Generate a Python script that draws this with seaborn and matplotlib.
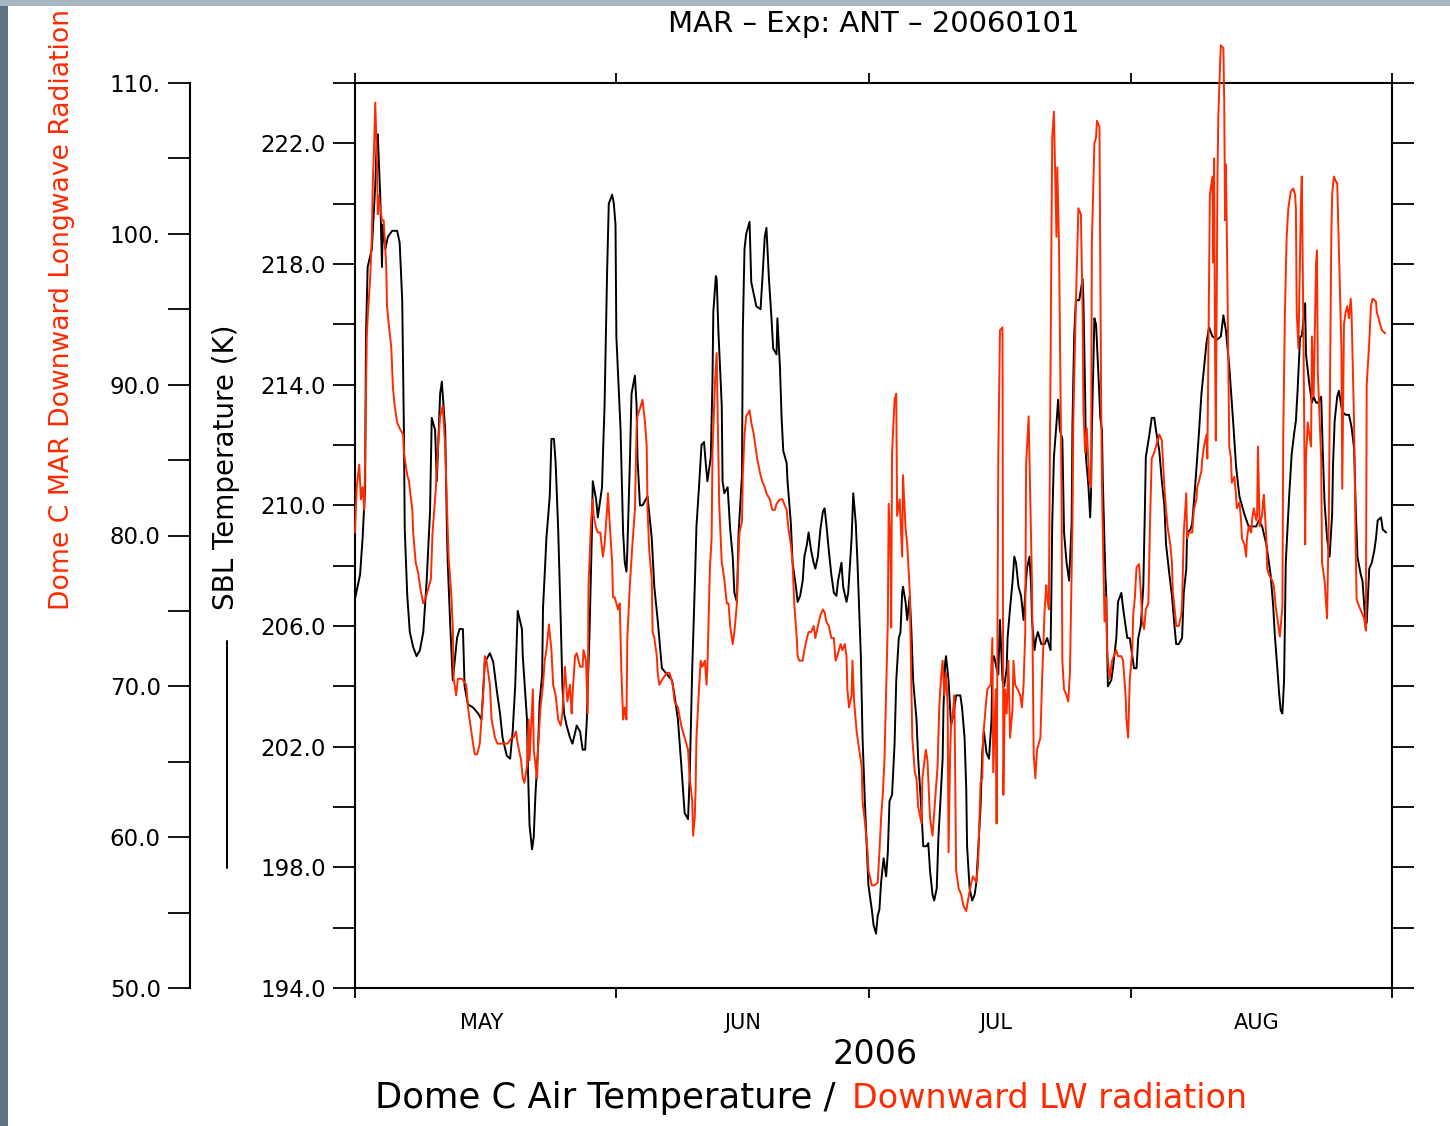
import numpy as np
import pandas as pd
import matplotlib
matplotlib.use("Agg")
import matplotlib.pyplot as plt
import matplotlib.dates as mdates
from matplotlib.lines import Line2D
from matplotlib.patches import Rectangle
import seaborn as sns

# ---------------- data ----------------
start_date = "2006-05-01"          # days below are counted from this date
end_date = "2006-09-01"

# Dome C air temperature (K), black series
t_days = [0.0, 0.6, 0.9, 1.2, 1.3, 1.5, 2.0, 2.4, 2.6, 2.7, 3.0, 3.2, 3.3, 3.6, 3.9, 4.4, 5.0, 5.3, 5.6, 5.8,
          5.9, 6.2, 6.5, 6.9, 7.3, 7.7, 8.1, 8.5, 8.9, 9.1, 9.5, 9.7, 10.1, 10.3, 10.7, 10.9, 11.0, 11.3, 11.6, 12.1,
          12.4, 12.8, 13.0, 13.4, 14.0, 14.6, 15.0, 15.4, 16.0, 16.4, 16.8, 17.2, 17.5, 18.0, 18.4, 18.7, 19.0, 19.3, 19.8, 19.9,
          20.4, 20.5, 20.7, 21.0, 21.2, 21.4, 21.7, 21.9, 22.2, 22.3, 22.5, 22.7, 23.1, 23.3, 23.6, 23.8, 24.1, 24.4, 24.6, 24.8,
          25.1, 25.5, 25.8, 26.3, 26.7, 27.0, 27.3, 27.5, 27.6, 27.8, 28.1, 28.2, 28.6, 28.8, 29.3, 29.4, 29.6, 29.9, 30.1, 30.5,
          30.7, 30.9, 31.0, 31.3, 31.5, 31.6, 31.8, 32.0, 32.2, 32.3, 32.6, 32.8, 33.2, 33.4, 33.5, 33.8, 34.1, 34.7, 35.2, 35.5,
          35.9, 36.4, 37.0, 37.6, 37.9, 38.3, 38.7, 39.1, 39.5, 39.7, 40.0, 40.3, 40.5, 40.8, 41.1, 41.4, 41.6, 41.8, 42.2, 42.4,
          42.5, 42.8, 42.9, 43.1, 43.5, 43.6, 43.8, 44.2, 44.5, 44.8, 45.0, 45.3, 45.5, 45.9, 46.0, 46.2, 46.4, 46.8, 47.0, 47.3,
          47.6, 48.1, 48.3, 48.6, 48.8, 49.1, 49.4, 49.6, 50.0, 50.1, 50.4, 50.6, 50.8, 51.2, 51.3, 51.7, 51.9, 52.3, 52.5, 52.8,
          53.1, 53.3, 53.6, 53.8, 54.1, 54.4, 54.6, 54.9, 55.2, 55.5, 55.7, 55.9, 56.2, 56.5, 56.8, 57.1, 57.3, 57.7, 57.9, 58.3,
          58.5, 58.9, 59.1, 59.4, 59.6, 60.0, 60.2, 60.5, 60.7, 60.9, 61.3, 61.5, 61.8, 62.0, 62.2, 62.4, 62.7, 63.0, 63.2, 63.4,
          63.7, 64.0, 64.2, 64.5, 64.7, 64.9, 65.0, 65.3, 65.5, 65.8, 66.0, 66.2, 66.6, 66.8, 67.2, 67.4, 67.8, 68.0, 68.2, 68.5,
          68.7, 69.0, 69.2, 69.4, 69.7, 69.8, 70.0, 70.1, 70.4, 70.7, 71.0, 71.3, 71.8, 72.0, 72.3, 72.5, 72.6, 72.9, 73.2, 73.5,
          73.7, 73.9, 74.2, 74.4, 74.6, 74.9, 75.2, 75.5, 75.6, 75.8, 76.1, 76.3, 76.5, 76.8, 77.0, 77.3, 77.4, 77.7, 78.0, 78.2,
          78.4, 78.7, 79.0, 79.3, 79.5, 79.7, 80.0, 80.2, 80.3, 80.6, 80.8, 81.0, 81.4, 81.8, 82.1, 82.5, 82.6, 82.7, 82.9, 83.2,
          83.4, 83.6, 83.9, 84.0, 84.1, 84.4, 84.7, 85.0, 85.1, 85.3, 85.5, 85.9, 86.3, 86.4, 86.6, 86.7, 87.0, 87.2, 87.3, 87.4,
          87.7, 87.9, 88.2, 88.4, 88.6, 88.7, 89.0, 89.1, 89.3, 89.7, 89.9, 90.3, 90.5, 90.9, 91.1, 91.5, 91.6, 91.9, 92.2, 92.4,
          92.7, 92.9, 93.2, 93.5, 93.7, 93.8, 94.2, 94.5, 94.8, 95.0, 95.4, 95.7, 96.0, 96.2, 96.6, 96.9, 97.2, 97.4, 97.7, 98.1,
          98.3, 98.6, 98.7, 99.1, 99.3, 99.5, 99.8, 100.1, 100.4, 101.0, 101.3, 101.7, 102.3, 102.7, 103.0, 103.3, 103.7, 104.2, 104.5, 104.9,
          105.5, 106.0, 106.4, 106.9, 107.2, 107.6, 108.1, 108.3, 108.6, 108.9, 109.1, 109.4, 109.6, 109.8, 110.0, 110.2, 110.4, 110.8, 111.1, 111.4,
          111.6, 111.8, 112.1, 112.3, 112.7, 112.8, 113.2, 113.5, 113.7, 114.0, 114.2, 114.6, 114.8, 115.0, 115.3, 115.6, 115.9, 116.0, 116.2, 116.5,
          116.7, 117.1, 117.5, 117.9, 118.2, 118.5, 118.7, 118.9, 119.3, 119.5, 119.8, 120.0, 120.3, 120.6, 120.9, 121.1, 121.3, 121.7, 121.9, 122.3]
t_vals = [206.9, 207.7, 208.9, 210.6, 215.6, 217.9, 218.5, 220.6, 222.2, 222.3, 220.2, 217.9, 219.3, 218.5, 218.9, 219.1, 219.1, 218.7, 216.8, 212.5,
          209.2, 207.0, 205.8, 205.3, 205.0, 205.2, 205.8, 207.5, 209.8, 212.9, 212.5, 210.8, 213.7, 214.1, 212.5, 209.2, 208.1, 206.0, 204.2, 205.6,
          205.9, 205.9, 204.0, 203.4, 203.3, 203.1, 202.9, 204.8, 205.1, 204.8, 203.9, 203.1, 202.3, 201.7, 201.6, 202.5, 204.0, 206.5, 205.9, 205.0,
          202.9, 201.4, 199.4, 198.6, 199.0, 200.4, 201.9, 203.5, 204.4, 206.6, 207.7, 208.9, 210.3, 212.2, 212.2, 211.4, 209.2, 206.2, 204.0, 203.1,
          202.7, 202.3, 202.1, 202.7, 202.5, 201.9, 201.9, 202.9, 203.9, 205.6, 209.1, 210.8, 210.2, 209.6, 210.6, 211.6, 213.3, 217.7, 220.0, 220.3,
          220.0, 219.3, 215.6, 213.7, 212.5, 211.4, 209.1, 208.1, 207.8, 208.5, 211.4, 213.7, 214.3, 213.3, 211.6, 210.0, 210.0, 210.3, 208.9, 207.3,
          206.2, 204.6, 204.4, 204.2, 203.7, 202.9, 201.4, 199.8, 199.6, 201.0, 204.6, 207.3, 209.3, 210.6, 212.0, 212.1, 211.4, 210.8, 211.6, 214.1,
          216.4, 217.6, 217.5, 215.8, 213.3, 210.8, 210.4, 210.6, 209.2, 208.3, 207.1, 206.8, 209.1, 211.0, 215.8, 218.5, 219.0, 219.4, 217.4, 217.0,
          216.6, 216.5, 217.4, 218.9, 219.2, 217.5, 216.2, 215.2, 215.0, 216.2, 214.6, 212.9, 211.8, 211.4, 210.8, 209.4, 208.1, 207.3, 206.8, 207.0,
          207.5, 208.3, 208.7, 209.1, 208.5, 208.1, 207.9, 208.3, 209.2, 209.8, 209.9, 209.4, 208.5, 207.7, 207.1, 207.0, 207.5, 208.1, 207.3, 206.8,
          207.1, 208.9, 210.4, 209.4, 208.1, 205.0, 202.3, 200.0, 198.7, 197.4, 196.6, 196.1, 195.8, 196.4, 196.6, 197.5, 198.3, 197.7, 198.5, 200.2,
          200.4, 202.1, 204.2, 205.6, 205.8, 207.1, 207.3, 206.8, 206.2, 207.0, 205.8, 204.2, 202.9, 201.6, 199.8, 198.7, 198.7, 198.8, 197.9, 197.1,
          196.9, 197.3, 199.0, 200.0, 201.6, 203.3, 204.8, 205.0, 204.2, 202.7, 203.1, 203.7, 203.7, 203.3, 202.3, 200.6, 198.7, 197.3, 196.9, 197.1,
          197.5, 198.5, 200.0, 201.8, 202.5, 201.8, 201.6, 202.9, 204.8, 205.0, 204.6, 204.4, 206.2, 204.2, 204.0, 204.6, 205.6, 206.6, 207.5, 208.3,
          208.1, 207.3, 207.0, 206.2, 207.1, 207.9, 208.3, 207.3, 206.2, 205.2, 205.6, 205.8, 205.4, 205.4, 205.6, 205.2, 207.1, 209.4, 211.6, 212.7,
          213.5, 212.5, 212.2, 210.6, 209.1, 208.1, 207.5, 209.4, 212.7, 215.6, 216.8, 216.8, 217.5, 216.8, 213.7, 211.6, 210.6, 209.6, 210.4, 212.5,
          216.2, 216.0, 214.2, 212.9, 212.5, 210.8, 207.7, 207.1, 204.0, 204.2, 204.6, 205.6, 206.8, 207.1, 206.6, 205.8, 205.6, 205.6, 205.0, 204.6,
          204.6, 205.6, 206.0, 207.3, 210.0, 211.6, 212.3, 212.9, 212.9, 212.5, 211.8, 210.8, 210.0, 208.7, 207.7, 207.0, 206.0, 205.4, 205.4, 205.6,
          207.1, 207.9, 209.1, 209.2, 209.4, 210.1, 211.2, 212.4, 213.7, 215.4, 215.9, 215.6, 215.5, 215.6, 216.3, 215.8, 214.6, 212.6, 211.3, 210.3,
          209.7, 209.3, 209.3, 209.3, 209.5, 209.3, 208.7, 208.3, 207.7, 206.7, 205.7, 204.6, 203.8, 203.2, 203.1, 204.2, 208.1, 210.3, 211.7, 212.4,
          212.8, 213.8, 215.6, 215.6, 216.7, 215.0, 214.0, 213.4, 213.6, 213.4, 213.4, 213.6, 211.7, 210.1, 208.9, 208.3, 209.7, 211.3, 212.8, 213.6,
          213.8, 213.1, 213.0, 213.0, 212.6, 211.9, 209.9, 208.3, 207.7, 207.5, 206.3, 206.1, 207.9, 208.1, 208.5, 208.9, 209.5, 209.6, 209.2, 209.1]

# MAR downward longwave radiation (W/m2), red series
lw_days = [0.0, 0.2, 0.5, 0.7, 0.9, 1.1, 1.2, 1.4, 1.5, 1.8, 2.0, 2.1, 2.3, 2.4, 2.6, 2.7, 2.8, 3.2, 3.4, 3.7,
           3.8, 4.0, 4.3, 4.5, 4.7, 5.0, 5.3, 5.7, 5.8, 6.2, 6.4, 6.8, 6.9, 7.2, 7.5, 7.8, 8.1, 8.4, 8.6, 9.0,
           9.2, 9.6, 9.8, 10.1, 10.4, 10.7, 10.9, 11.1, 11.4, 11.6, 11.7, 12.0, 12.2, 12.7, 13.2, 13.4, 13.6, 14.0, 14.2, 14.5,
           14.8, 15.2, 15.4, 15.6, 16.0, 16.2, 16.6, 16.9, 17.4, 17.8, 18.1, 18.6, 18.8, 19.1, 19.3, 19.7, 19.9, 20.1, 20.4, 20.6,
           20.7, 21.1, 21.2, 21.6, 21.7, 22.0, 22.3, 22.5, 22.7, 23.0, 23.3, 23.5, 23.8, 24.1, 24.4, 24.6, 24.9, 25.1, 25.2, 25.5,
           25.7, 25.8, 26.1, 26.3, 26.7, 27.0, 27.1, 27.4, 27.6, 27.7, 28.0, 28.2, 28.3, 28.6, 28.8, 29.1, 29.4, 29.6, 29.9, 30.0,
           30.2, 30.5, 30.6, 30.8, 31.0, 31.2, 31.4, 31.6, 31.8, 32.0, 32.2, 32.3, 32.6, 32.9, 33.2, 33.4, 33.5, 33.9, 34.1, 34.4,
           34.6, 34.7, 34.9, 35.2, 35.3, 35.5, 35.8, 35.9, 36.1, 36.5, 37.0, 37.3, 37.7, 37.9, 38.3, 38.7, 39.1, 39.5, 39.7, 40.0,
           40.1, 40.3, 40.4, 40.5, 40.8, 41.0, 41.2, 41.5, 41.7, 41.8, 42.1, 42.3, 42.4, 42.7, 42.9, 43.0, 43.2, 43.5, 43.6, 43.8,
           44.1, 44.3, 44.5, 44.8, 45.0, 45.3, 45.4, 45.6, 45.9, 46.0, 46.2, 46.4, 46.8, 47.0, 47.3, 47.5, 47.7, 48.1, 48.3, 48.6,
           48.8, 49.2, 49.5, 49.8, 50.0, 50.4, 50.7, 50.9, 51.2, 51.4, 51.7, 51.9, 52.1, 52.4, 52.5, 52.7, 53.1, 53.3, 53.6, 53.8,
           54.1, 54.4, 54.6, 54.9, 55.2, 55.5, 55.7, 55.9, 56.2, 56.5, 56.8, 57.0, 57.2, 57.6, 57.8, 58.1, 58.3, 58.4, 58.6, 58.9,
           59.0, 59.2, 59.5, 59.7, 60.1, 60.2, 60.5, 60.8, 60.9, 61.3, 61.6, 62.0, 62.2, 62.4, 62.6, 62.8, 63.0, 63.2, 63.3, 63.5,
           63.6, 63.7, 64.0, 64.2, 64.3, 64.6, 64.9, 65.0, 65.3, 65.5, 65.8, 66.0, 66.1, 66.4, 66.6, 66.8, 67.2, 67.3, 67.7, 67.9,
           68.2, 68.5, 68.6, 68.8, 69.1, 69.3, 69.5, 69.7, 69.9, 70.1, 70.3, 70.4, 70.6, 70.7, 70.9, 71.1, 71.3, 71.6, 71.9, 72.2,
           72.5, 72.7, 73.1, 73.3, 73.7, 73.9, 74.2, 74.4, 74.5, 74.8, 75.0, 75.4, 75.6, 75.7, 76.0, 76.1, 76.3, 76.5, 76.8, 76.9,
           77.1, 77.3, 77.5, 77.7, 78.0, 78.1, 78.3, 78.6, 78.9, 79.1, 79.3, 79.5, 79.6, 79.9, 80.1, 80.3, 80.5, 80.7, 80.9, 81.3,
           81.5, 81.8, 82.0, 82.1, 82.3, 82.6, 82.7, 82.9, 83.2, 83.3, 83.5, 83.8, 83.9, 84.1, 84.4, 84.6, 84.8, 85.1, 85.2, 85.4,
           85.5, 85.8, 86.1, 86.3, 86.4, 86.6, 86.8, 87.1, 87.3, 87.4, 87.7, 87.9, 88.0, 88.3, 88.5, 88.6, 88.9, 89.1, 89.2, 89.5,
           89.7, 89.8, 90.0, 90.3, 90.5, 90.9, 91.1, 91.4, 91.5, 91.7, 91.9, 92.2, 92.3, 92.5, 92.7, 93.0, 93.2, 93.4, 93.6, 93.8,
           94.1, 94.3, 94.5, 94.8, 95.0, 95.4, 95.7, 96.0, 96.2, 96.4, 96.7, 96.9, 97.0, 97.3, 97.4, 97.7, 98.0, 98.1, 98.3, 98.6,
           98.7, 98.9, 99.3, 99.5, 99.8, 99.9, 100.1, 100.4, 100.5, 100.7, 101.0, 101.1, 101.2, 101.4, 101.7, 101.8, 101.9, 102.0, 102.1, 102.3,
           102.4, 102.6, 102.7, 103.0, 103.1, 103.2, 103.3, 103.4, 103.7, 103.9, 104.0, 104.3, 104.5, 104.6, 104.9, 105.1, 105.2, 105.5, 105.7, 105.8,
           106.0, 106.3, 106.4, 106.6, 106.9, 107.0, 107.1, 107.3, 107.6, 107.7, 107.8, 108.1, 108.2, 108.4, 108.8, 109.0, 109.2, 109.5, 109.7, 110.0,
           110.1, 110.3, 110.5, 110.7, 111.0, 111.3, 111.5, 111.6, 111.7, 111.9, 112.2, 112.3, 112.5, 112.7, 112.8, 113.0, 113.4, 113.5, 113.7, 114.0,
           114.1, 114.2, 114.6, 114.7, 115.0, 115.3, 115.5, 115.8, 115.9, 116.1, 116.4, 116.5, 116.7, 117.0, 117.1, 117.3, 117.5, 117.7, 117.9, 118.1,
           118.2, 118.5, 118.7, 118.8, 119.1, 119.4, 119.7, 119.9, 120.0, 120.3, 120.5, 120.7, 121.1, 121.2, 121.6, 121.8, 122.2]
lw_vals = [80.2, 83.2, 84.7, 82.4, 83.2, 81.7, 85.1, 93.2, 94.4, 97.1, 99.8, 103.2, 106.4, 108.7, 105.2, 101.3, 102.5, 100.9, 100.9, 97.9,
           95.2, 94.0, 92.5, 89.8, 88.6, 87.5, 87.1, 86.7, 85.5, 84.0, 83.6, 81.7, 80.2, 78.2, 77.5, 76.3, 75.5, 75.9, 76.3, 77.1,
           80.2, 83.2, 85.5, 87.9, 88.6, 85.9, 82.1, 78.6, 76.3, 73.9, 70.5, 69.4, 70.5, 70.5, 70.1, 68.6, 67.8, 66.2, 65.5, 65.5,
           66.2, 69.4, 72.0, 71.7, 70.1, 67.8, 66.6, 66.2, 66.2, 66.2, 66.2, 66.6, 66.6, 67.0, 66.2, 65.1, 63.9, 63.6, 64.7, 67.8,
           65.1, 69.8, 65.8, 63.9, 65.8, 68.6, 70.1, 71.7, 72.4, 74.1, 72.4, 70.1, 69.4, 67.8, 67.4, 68.2, 71.3, 69.8, 69.0, 70.1,
           68.2, 69.4, 72.0, 72.2, 71.3, 71.3, 72.4, 71.7, 68.2, 76.7, 80.9, 82.4, 81.3, 80.5, 80.2, 80.2, 78.6, 79.4, 81.7, 82.8,
           80.9, 78.2, 75.9, 75.9, 75.5, 75.1, 75.5, 70.9, 67.8, 68.6, 67.8, 73.2, 76.7, 79.4, 81.7, 87.1, 87.9, 88.6, 89.0, 87.5,
           85.9, 81.7, 79.0, 77.1, 73.6, 73.2, 72.0, 70.9, 70.1, 70.5, 70.9, 70.9, 70.1, 69.0, 68.6, 67.4, 66.6, 65.8, 63.9, 62.4,
           60.1, 61.3, 63.2, 66.6, 69.8, 71.7, 71.3, 71.7, 70.1, 71.3, 77.9, 79.8, 85.5, 90.2, 92.1, 88.6, 82.1, 78.2, 77.9, 77.1,
           75.5, 75.5, 74.0, 72.8, 73.6, 75.5, 77.5, 80.2, 80.9, 84.0, 86.7, 87.9, 88.3, 87.5, 86.7, 85.9, 85.1, 84.0, 83.6, 83.2,
           82.8, 82.4, 81.7, 81.7, 82.1, 82.4, 82.4, 82.1, 81.7, 80.5, 79.4, 78.2, 75.5, 73.2, 72.0, 71.7, 71.7, 72.4, 73.2, 73.6,
           73.6, 74.0, 73.2, 74.0, 74.7, 75.1, 74.9, 74.3, 74.0, 73.2, 73.2, 71.7, 72.0, 72.8, 72.4, 72.8, 72.0, 69.8, 68.6, 69.4,
           71.7, 69.0, 67.0, 66.2, 64.7, 62.4, 60.9, 59.0, 57.8, 56.8, 56.8, 57.0, 59.0, 61.3, 62.8, 65.1, 69.8, 74.3, 82.1, 79.4,
           73.9, 85.5, 89.0, 89.4, 81.3, 82.4, 78.6, 84.0, 80.5, 79.4, 76.3, 70.1, 66.6, 64.3, 63.9, 62.0, 60.9, 63.9, 65.8, 65.1,
           61.3, 60.1, 60.9, 62.4, 64.7, 68.6, 70.5, 71.7, 69.4, 70.9, 68.6, 59.0, 65.8, 67.4, 68.2, 69.4, 57.8, 56.6, 56.2, 55.4,
           55.1, 55.8, 57.0, 57.4, 57.0, 58.2, 63.6, 63.9, 66.6, 68.6, 69.8, 70.1, 73.2, 64.3, 69.8, 60.9, 85.1, 93.6, 93.8, 62.8,
           69.8, 68.2, 71.7, 66.6, 68.6, 71.7, 70.1, 69.8, 69.4, 68.6, 70.1, 73.6, 84.7, 87.9, 82.4, 76.7, 65.5, 63.9, 65.8, 66.6,
           70.5, 75.1, 76.7, 75.9, 75.1, 99.4, 106.4, 108.1, 99.8, 104.4, 99.4, 83.2, 71.7, 69.8, 69.4, 69.0, 70.9, 80.9, 87.5, 92.8,
           95.2, 101.7, 101.3, 94.8, 88.3, 85.5, 87.1, 83.6, 83.2, 99.4, 106.0, 106.4, 107.5, 107.1, 89.0, 83.2, 74.3, 75.9, 72.4, 70.5,
           71.3, 71.7, 72.0, 72.4, 72.0, 72.0, 71.7, 69.4, 67.8, 66.6, 70.5, 72.4, 74.7, 75.9, 77.9, 78.1, 76.3, 74.3, 73.8, 75.1,
           75.5, 80.9, 85.1, 85.5, 85.9, 86.7, 86.3, 83.2, 81.7, 80.5, 79.4, 78.2, 76.3, 74.7, 74.0, 74.0, 74.7, 75.5, 80.2, 82.8,
           79.8, 80.2, 80.2, 81.7, 82.4, 83.2, 83.6, 84.3, 85.1, 85.9, 86.7, 85.1, 90.8, 102.6, 103.8, 98.1, 105.0, 93.2, 86.3, 103.8,
           107.8, 111.1, 112.5, 112.3, 108.7, 100.9, 104.6, 100.5, 85.9, 85.1, 83.5, 83.9, 82.7, 81.8, 82.2, 81.0, 79.8, 79.4, 78.6, 79.8,
           80.6, 80.2, 81.0, 81.8, 81.0, 81.4, 85.9, 80.6, 81.4, 82.2, 82.7, 79.8, 77.8, 77.4, 77.0, 76.6, 75.3, 74.1, 73.3, 75.3,
           86.7, 94.8, 99.7, 101.7, 102.8, 103.0, 102.6, 101.7, 94.8, 92.4, 102.2, 103.8, 93.2, 79.4, 85.1, 87.5, 85.9, 93.2, 89.2, 98.1,
           98.9, 90.8, 85.1, 78.2, 77.0, 74.5, 81.0, 99.7, 102.6, 103.8, 103.4, 103.4, 98.9, 92.4, 83.1, 94.0, 94.8, 95.2, 94.4, 95.7,
           94.8, 87.5, 79.0, 75.8, 75.3, 74.9, 74.5, 73.7, 90.0, 92.8, 95.2, 95.7, 95.5, 94.8, 94.0, 93.6, 93.4]

# axis ticks / labels
temp_ticks = [194, 196, 198, 200, 202, 204, 206, 208, 210, 212, 214, 216, 218, 220, 222, 224]
temp_labels = ["194.0", "", "198.0", "", "202.0", "", "206.0", "", "210.0", "", "214.0", "", "218.0", "", "222.0", ""]
lw_ticks = [50, 55, 60, 65, 70, 75, 80, 85, 90, 95, 100, 105, 110]
lw_labels = ["50.0", "", "60.0", "", "70.0", "", "80.0", "", "90.0", "", "100.", "", "110."]
month_starts = ["2006-05-01", "2006-06-01", "2006-07-01", "2006-08-01", "2006-09-01"]
month_mids = ["2006-05-16", "2006-06-16", "2006-07-16", "2006-08-16"]
month_labels = ["MAY", "JUN", "JUL", "AUG"]

RED = "#ff2a00"

# ---------------- frames ----------------
t0 = pd.Timestamp(start_date)
df_t = pd.DataFrame({"time": t0 + pd.to_timedelta(t_days, unit="D"), "temp": t_vals})
df_lw = pd.DataFrame({"time": t0 + pd.to_timedelta(lw_days, unit="D"), "lw": lw_vals})

sns.set_theme(style="ticks")
plt.rcParams["font.family"] = ["DejaVu Sans"]
plt.rcParams["axes.linewidth"] = 1.5
for key in ["text.color", "axes.labelcolor", "xtick.color", "ytick.color", "axes.edgecolor"]:
    plt.rcParams[key] = "black"

W, H = 1450, 1126
fig = plt.figure(figsize=(W / 100, H / 100), dpi=100)
fig.patch.set_facecolor("white")

# screenshot edge strips
fig.add_artist(Rectangle((0, 0), 8 / W, 1, transform=fig.transFigure, facecolor="#5e7384", edgecolor="none", zorder=0))
fig.add_artist(Rectangle((0, 1 - 6 / H), 1, 6 / H, transform=fig.transFigure, facecolor="#a7b7c3", edgecolor="none", zorder=0))

ax = fig.add_axes([355 / W, 138 / H, 1037 / W, 905 / H])
ax2 = ax.twinx()

sns.lineplot(data=df_t, x="time", y="temp", ax=ax, color="black", linewidth=1.4,
             estimator=None, sort=False, legend=False)
sns.lineplot(data=df_lw, x="time", y="lw", ax=ax2, color=RED, linewidth=1.4,
             estimator=None, sort=False, legend=False)
for ln in ax2.lines:
    ln.set_clip_on(False)

ax.set_xlim(pd.Timestamp(start_date), pd.Timestamp(end_date))
ax.set_ylim(194, 224)
ax2.set_ylim(50, 110)
ax.set_xlabel("")
ax.set_ylabel("")
ax2.set_ylabel("")

# x ticks: month boundaries (unlabelled) + mid-month labels
ax.set_xticks([mdates.date2num(pd.Timestamp(d)) for d in month_starts])
ax.set_xticklabels([""] * len(month_starts))
ax.set_xticks([mdates.date2num(pd.Timestamp(d)) for d in month_mids], minor=True)
ax.set_xticklabels(month_labels, minor=True)
ax.tick_params(axis="x", which="major", direction="out", length=7.5, width=1.3,
               top=True, bottom=True, labelbottom=False, labeltop=False)
ax.tick_params(axis="x", which="minor", length=0, pad=18, labelsize=15, top=False, bottom=True)

# inner temperature axis (left labels, right ticks)
ax.set_yticks(temp_ticks)
ax.set_yticklabels(temp_labels)
ax.tick_params(axis="y", which="major", direction="out", length=16, width=1.3,
               left=True, right=True, labelleft=True, labelright=False, pad=5, labelsize=16.5)
ax.yaxis.set_minor_locator(plt.NullLocator())

# outer LW axis
ax2.yaxis.tick_left()
ax2.spines["left"].set_position(("outward", 165 * 0.72))
for s in ["right", "top", "bottom"]:
    ax2.spines[s].set_visible(False)
ax2.spines["left"].set_linewidth(1.5)
ax2.set_yticks(lw_ticks)
ax2.set_yticklabels(lw_labels)
ax2.tick_params(axis="y", which="major", direction="out", length=16, width=1.3,
                left=True, right=False, labelleft=True, labelright=False, pad=5, labelsize=16.5)
for s in ax.spines.values():
    s.set_linewidth(1.5)
    s.set_color("black")

# ---------------- texts ----------------
fig.text(873.5 / W, 1 - 24 / H, "MAR \u2013 Exp: ANT \u2013 20060101", ha="center", va="center", fontsize=21)
fig.text(62 / W, 1 - 309 / H, "Dome C MAR Downward Longwave Radiation", rotation=90,
         ha="center", va="center", fontsize=19.2, color=RED)
fig.text(226 / W, 1 - 467 / H, "SBL Temperature (K)", rotation=90, ha="center", va="center", fontsize=20)
fig.add_artist(Line2D([227 / W, 227 / W], [1 - 641 / H, 1 - 868 / H], color="black", lw=1.4,
                      transform=fig.transFigure))
fig.text(875 / W, 1 - 1055 / H, "2006", ha="center", va="center", fontsize=24)
fig.text(836 / W, 1 - 1098 / H, "Dome C Air Temperature /", ha="right", va="center", fontsize=25.5)
fig.text(852 / W, 1 - 1098 / H, "Downward LW radiation", ha="left", va="center", fontsize=24, color=RED)

fig.savefig("out.png", dpi=100)
